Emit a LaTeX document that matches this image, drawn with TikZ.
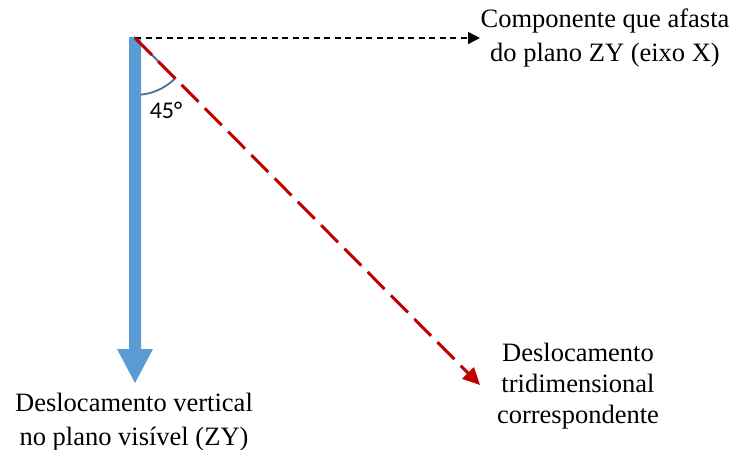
\documentclass[tikz,border=0pt]{standalone}
\usepackage{fontspec}
\setmainfont{Liberation Serif}
\newfontfamily\calfont{Carlito}
\usetikzlibrary{arrows.meta}
\definecolor{blueA}{HTML}{5B9BD5}
\definecolor{blueB}{HTML}{41719C}
\definecolor{redA}{HTML}{C00000}
\tikzset{
  lbl/.style={align=center, inner sep=0pt, font=\fontsize{26.5}{34}\selectfont},
  redline/.style={draw=redA, line width=3pt, dash pattern=on 24pt off 9pt, -{Triangle[length=17pt,width=16pt]}},
  blackline/.style={draw=black, line width=1.4pt, dash pattern=on 6pt off 4.5pt, -{Triangle[length=12pt,width=12pt]}},
  sector/.style={draw=blueB, line width=1.8pt}
}
\begin{document}
\begin{tikzpicture}[x=1pt,y=-1pt]
\useasboundingbox (0,0) rectangle (734,450);
\coordinate (O) at (135,38);
\coordinate (H) at (480,38);
\coordinate (R) at (480,385);
% angle sector
\draw[sector] (O) -- ++(0,57) arc[start angle=90, end angle=45, radius=57] -- cycle;
% blue arrow
\fill[blueA] (129,37) -- (141,37) -- (141,349) -- (153,349) -- (135,383) -- (117,349) -- (129,349) -- cycle;
\coordinate (B) at (135,383);
% dashed lines
\draw[blackline] (O) -- (H);
\draw[redline] (O) -- (R);
% labels
\node[lbl] (top) at (605,38) {Componente que afasta\\do plano ZY (eixo X)};
\node[lbl] (left) at (134,422) {Deslocamento vertical\\no plano visível (ZY)};
\node[lbl, font=\fontsize{26.5}{31}\selectfont] (right) at (578,386) {Deslocamento\\tridimensional\\correspondente};
\node[inner sep=0pt, font=\calfont\fontsize{24}{24}\selectfont] (ang) at (166,110) {45°};
\end{tikzpicture}
\end{document}
